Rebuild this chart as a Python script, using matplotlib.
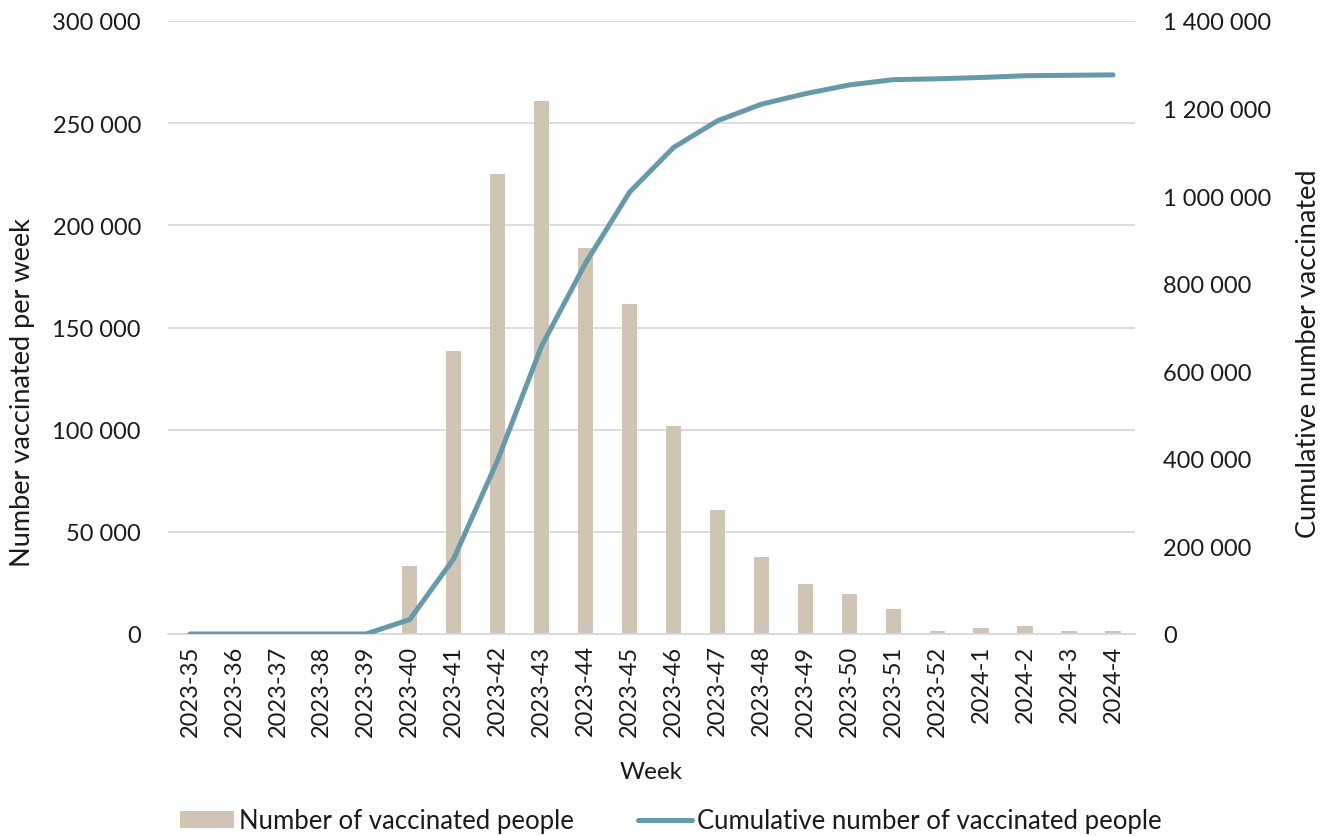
import matplotlib
matplotlib.use("Agg")
import matplotlib.pyplot as plt
from matplotlib.ticker import FuncFormatter, MultipleLocator

plt.rcParams['font.family'] = ['Lato', 'DejaVu Sans']

weeks = ["2023-35", "2023-36", "2023-37", "2023-38", "2023-39", "2023-40", "2023-41",
         "2023-42", "2023-43", "2023-44", "2023-45", "2023-46", "2023-47", "2023-48",
         "2023-49", "2023-50", "2023-51", "2023-52", "2024-1", "2024-2", "2024-3", "2024-4"]
weekly = [0, 0, 0, 0, 0, 33300, 138500, 225000, 261000, 189000, 161500, 102000, 60700,
          37700, 24500, 19600, 12300, 1600, 3000, 4000, 1600, 1600]
cumulative = [0, 0, 0, 0, 0, 33000, 172000, 397000, 658000, 847000, 1009000, 1111000,
              1172000, 1210000, 1234000, 1254000, 1266000, 1268000, 1271000, 1275000,
              1276000, 1277000]

bar_color = "#D0C4B5"
line_color = "#6699AA"
text_color = "#1A1A1A"
FS = 17

fmt = FuncFormatter(lambda v, p: f"{int(v):,}".replace(",", " "))

W, H = 1333, 837
fig = plt.figure(figsize=(W / 100, H / 100), dpi=100)
ax = fig.add_axes([168 / W, 1 - 635 / H, (1135 - 168) / W, (635 - 22) / H])
ax2 = ax.twinx()

x = list(range(len(weeks)))
ax.bar(x, weekly, width=0.35, color=bar_color, zorder=2, label="Number of vaccinated people")
ax2.plot(x, cumulative, color=line_color, lw=3.6, solid_capstyle='round',
         label="Cumulative number of vaccinated people", zorder=3)

ax.set_xlim(-0.5, len(weeks) - 0.5)
ax.set_ylim(0, 300000)
ax2.set_ylim(0, 1400000)
ax.yaxis.set_major_locator(MultipleLocator(50000))
ax2.yaxis.set_major_locator(MultipleLocator(200000))
ax.yaxis.set_major_formatter(fmt)
ax2.yaxis.set_major_formatter(fmt)

ax.grid(axis='y', color="#D9D9D9", lw=1.3, zorder=0)
ax.set_axisbelow(True)
for a in (ax, ax2):
    for s in a.spines.values():
        s.set_visible(False)
ax.spines['bottom'].set_visible(True)
ax.spines['bottom'].set_color("#D9D9D9")
ax.spines['bottom'].set_linewidth(1.3)

ax.set_xticks(x)
ax.set_xticklabels(weeks, rotation=90, fontsize=FS, color=text_color)
ax.tick_params(axis='x', length=0, pad=7.5)
ax.tick_params(axis='y', length=0, labelsize=FS, pad=19.5, labelcolor=text_color)
ax2.tick_params(axis='y', length=0, labelsize=FS, pad=20, labelcolor=text_color)

ax.set_xlabel("Week", fontsize=17.5, labelpad=18, color=text_color)
fig.text(23 / W, 1 - 393 / H, "Number vaccinated per week", rotation=90,
         ha='center', va='center', fontsize=19.5, color=text_color)
fig.text(1308 / W, 1 - 354 / H, "Cumulative number vaccinated", rotation=90,
         ha='center', va='center', fontsize=19.5, color=text_color)

h1, l1 = ax.get_legend_handles_labels()
h2, l2 = ax2.get_legend_handles_labels()
fig.legend(h1 + h2, l1 + l2, loc='center', bbox_to_anchor=(671 / W, 1 - 822 / H), ncol=2,
           frameon=False, fontsize=18.5, handlelength=2.1, handleheight=0.6,
           handletextpad=0.2, columnspacing=2.5, labelcolor=text_color,
           borderpad=0, borderaxespad=0)

fig.savefig("out.png", dpi=100)
